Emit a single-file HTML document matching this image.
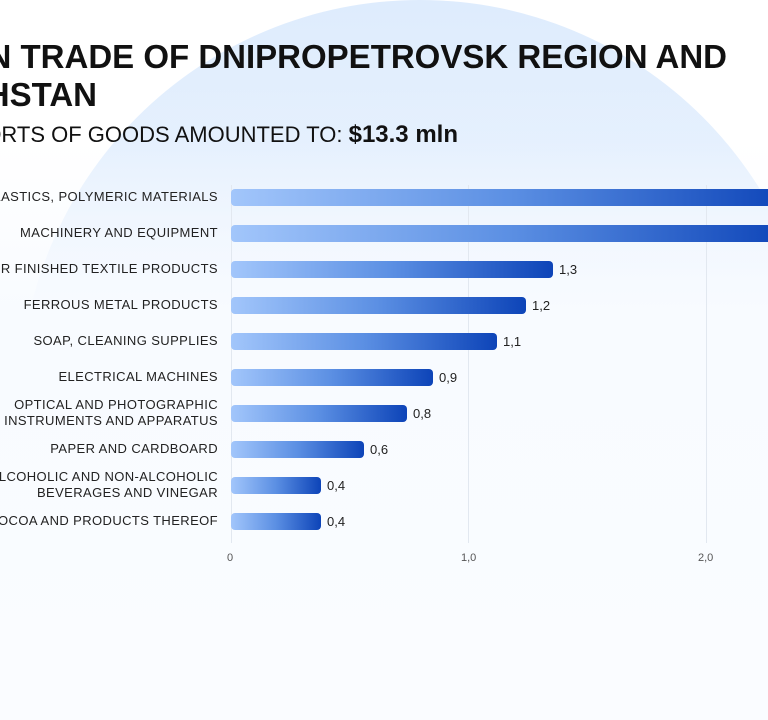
<!DOCTYPE html>
<html style="margin:0;width:768px;height:720px;overflow:hidden"><head><meta charset="utf-8"><style>
body{margin:0;width:768px;height:720px;overflow:hidden;background:#fff;font-family:"Liberation Sans",sans-serif}
#w{position:relative;width:768px;height:720px;overflow:hidden}
.circle{position:absolute;left:20px;top:0;width:800px;height:800px;border-radius:50%;background:linear-gradient(#deecfd,#eef5fe 40%,#f8fbff 70%)}
.fade{position:absolute;left:0;top:140px;width:768px;height:580px;background:linear-gradient(rgba(248,251,255,0),#f8fbff 30%,#fafcff)}
.t{position:absolute;white-space:nowrap;color:#111}
.h{font-weight:bold;font-size:33px;line-height:33px}
.lab{position:absolute;right:550px;font-size:13px;color:#222;text-align:right;line-height:16px;white-space:nowrap;letter-spacing:0.4px}
.bar{position:absolute;left:231px;height:17px;border-radius:4px;background:linear-gradient(90deg,#a2c6fb,#5b8fe3 50%,#0d44b8)}
.v{position:absolute;font-size:13px;color:#222}
.g{position:absolute;top:185px;width:1px;height:358px;background:#e2e8f0}
.tick{position:absolute;top:552px;font-size:11px;color:#555}
</style></head><body><div id="w">
<div class="circle"></div><div class="fade"></div>
<div class="g" style="left:231px"></div><div class="g" style="left:468px"></div><div class="g" style="left:706px"></div>
<div class="t h" style="right:41px;top:40px">FOREIGN TRADE OF DNIPROPETROVSK REGION AND</div>
<div class="t h" style="right:671px;top:78px">KAZAKHSTAN</div>
<div class="t" style="right:310px;top:121px;font-size:22px">EXPORTS OF GOODS AMOUNTED TO: <b style="font-size:24px">$13.3 mln</b></div>

<div class="lab" style="top:189px">PLASTICS, POLYMERIC MATERIALS</div>
<div class="bar" style="top:189px;width:560px"></div>
<div class="lab" style="top:225px">MACHINERY AND EQUIPMENT</div>
<div class="bar" style="top:225px;width:560px"></div>
<div class="lab" style="top:261px">OTHER FINISHED TEXTILE PRODUCTS</div>
<div class="bar" style="top:261px;width:322px"></div><div class="v" style="left:559px;top:262px">1,3</div>
<div class="lab" style="top:297px">FERROUS METAL PRODUCTS</div>
<div class="bar" style="top:297px;width:295px"></div><div class="v" style="left:532px;top:298px">1,2</div>
<div class="lab" style="top:333px">SOAP, CLEANING SUPPLIES</div>
<div class="bar" style="top:333px;width:266px"></div><div class="v" style="left:503px;top:334px">1,1</div>
<div class="lab" style="top:369px">ELECTRICAL MACHINES</div>
<div class="bar" style="top:369px;width:202px"></div><div class="v" style="left:439px;top:370px">0,9</div>
<div class="lab" style="top:397px">OPTICAL AND PHOTOGRAPHIC<br>INSTRUMENTS AND APPARATUS</div>
<div class="bar" style="top:405px;width:176px"></div><div class="v" style="left:413px;top:406px">0,8</div>
<div class="lab" style="top:441px">PAPER AND CARDBOARD</div>
<div class="bar" style="top:441px;width:133px"></div><div class="v" style="left:370px;top:442px">0,6</div>
<div class="lab" style="top:469px">ALCOHOLIC AND NON-ALCOHOLIC<br>BEVERAGES AND VINEGAR</div>
<div class="bar" style="top:477px;width:90px"></div><div class="v" style="left:327px;top:478px">0,4</div>
<div class="lab" style="top:513px">COCOA AND PRODUCTS THEREOF</div>
<div class="bar" style="top:513px;width:90px"></div><div class="v" style="left:327px;top:514px">0,4</div>

<div class="tick" style="left:227px">0</div>
<div class="tick" style="left:461px">1,0</div>
<div class="tick" style="left:698px">2,0</div>
</div></body></html>
